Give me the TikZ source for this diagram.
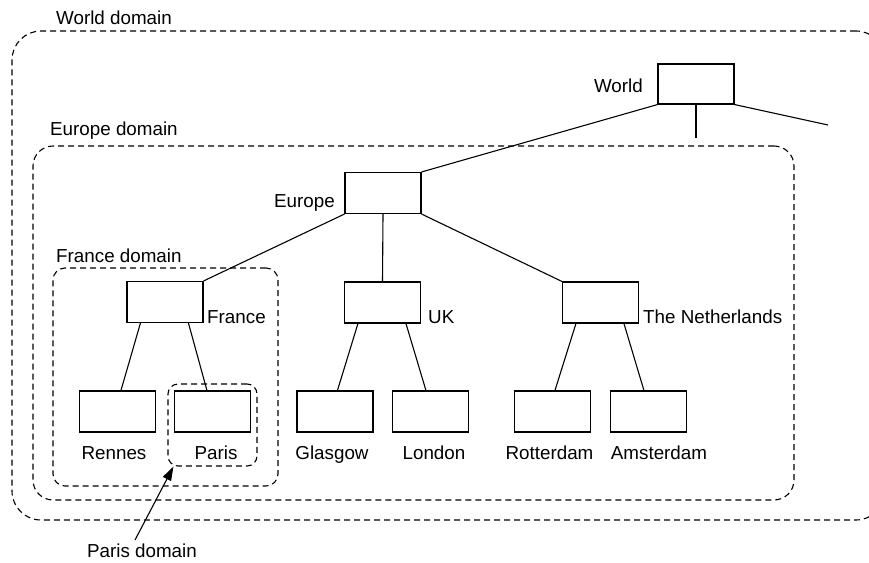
\documentclass[tikz,border=0pt]{standalone}
\usepackage{fontspec}
\setmainfont{Liberation Sans}
\usetikzlibrary{arrows.meta}
\begin{document}
\begin{tikzpicture}[x=1pt,y=-1pt,
  srvbox/.style={draw, line width=1.1pt, rectangle, inner sep=0pt,
    minimum width=76pt, minimum height=41pt},
  domainbox/.style={draw, line width=1.1pt, dash pattern=on 6pt off 4pt,
    rectangle, inner sep=0pt},
  lbl/.style={inner sep=0pt, font=\fontsize{18.8}{22}\selectfont},
  treelink/.style={line width=1.1pt},
]
\useasboundingbox (0,0) rectangle (869,562);
\clip (0,0) rectangle (869,562);

% administrative domains
\node[domainbox, rounded corners=29pt, minimum width=873pt, minimum height=489pt] (worlddom) at (448.5,275.5) {};
\node[domainbox, rounded corners=20pt, minimum width=761pt, minimum height=354pt] (europedom) at (413.5,323) {};
\node[domainbox, rounded corners=12pt, minimum width=225pt, minimum height=218pt] (francedom) at (165.5,377) {};
\node[domainbox, rounded corners=10pt, minimum width=89pt, minimum height=82pt] (parisdom) at (212.5,425) {};

% name servers
\node[srvbox, minimum height=40pt] (world) at (696,84) {};
\node[srvbox] (europe) at (383,193) {};
\node[srvbox] (france) at (165,302) {};
\node[srvbox] (uk) at (382.5,302.5) {};
\node[srvbox] (nl) at (600.5,302.5) {};
\node[srvbox] (rennes) at (117.5,411.5) {};
\node[srvbox] (paris) at (212.5,411.5) {};
\node[srvbox] (glasgow) at (335,411.5) {};
\node[srvbox] (london) at (430.5,411.5) {};
\node[srvbox] (rotterdam) at (552.5,411.5) {};
\node[srvbox] (amsterdam) at (648.5,411.5) {};

% loose ends below the root
\coordinate (worldmid) at (696,138);
\coordinate (worldright) at (828,125);

% labels
\node[lbl, anchor=base west] (worlddomlbl) at (56,24) {World domain};
\node[lbl, anchor=base west] (europedomlbl) at (50,135) {Europe domain};
\node[lbl, anchor=base west] (francedomlbl) at (56,262) {France domain};
\node[lbl, anchor=base east] (worldlbl) at (643,92) {World};
\node[lbl, anchor=base east] (europelbl) at (335,207) {Europe};
\node[lbl, anchor=base west] (francelbl) at (207,323) {France};
\node[lbl, anchor=base west] (uklbl) at (428,323) {UK};
\node[lbl, anchor=base west] (nllbl) at (643,323) {The Netherlands};
\node[lbl, anchor=base] (renneslbl) at (114,459) {Rennes};
\node[lbl, anchor=base] (parislbl) at (216,459) {Paris};
\node[lbl, anchor=base] (glasgowlbl) at (332,459) {Glasgow};
\node[lbl, anchor=base] (londonlbl) at (434,459) {London};
\node[lbl, anchor=base] (rotterdamlbl) at (549.5,459) {Rotterdam};
\node[lbl, anchor=base] (amsterdamlbl) at (659,459) {Amsterdam};
\node[lbl, anchor=base] (parisdomlbl) at (142,557) {Paris domain};

% tree links
\draw[treelink] (world.south west) -- (europe.north east);
\draw[treelink] (world.south) -- (worldmid);
\draw[treelink] (world.south east) -- (worldright);
\draw[treelink] (europe.south west) -- (france.north east);
\draw[treelink] (europe.south) -- (uk.north);
\draw[treelink] (europe.south east) -- (nl.north west);
\draw[treelink] ([xshift=14pt]france.south west) -- ([xshift=42pt]rennes.north west);
\draw[treelink] ([xshift=62pt]france.south west) -- ([xshift=33pt]paris.north west);
\draw[treelink] ([xshift=14pt]uk.south west) -- ([xshift=41pt]glasgow.north west);
\draw[treelink] ([xshift=62pt]uk.south west) -- ([xshift=34pt]london.north west);
\draw[treelink] ([xshift=14pt]nl.south west) -- ([xshift=41pt]rotterdam.north west);
\draw[treelink] ([xshift=62pt]nl.south west) -- ([xshift=34pt]amsterdam.north west);

% pointer to the Paris domain
\draw[treelink, -{Triangle[length=14pt,width=9pt]}]
  ([xshift=-7pt,yshift=17pt]parisdomlbl.base) -- ([xshift=6pt]parisdom.south west);
\end{tikzpicture}
\end{document}
